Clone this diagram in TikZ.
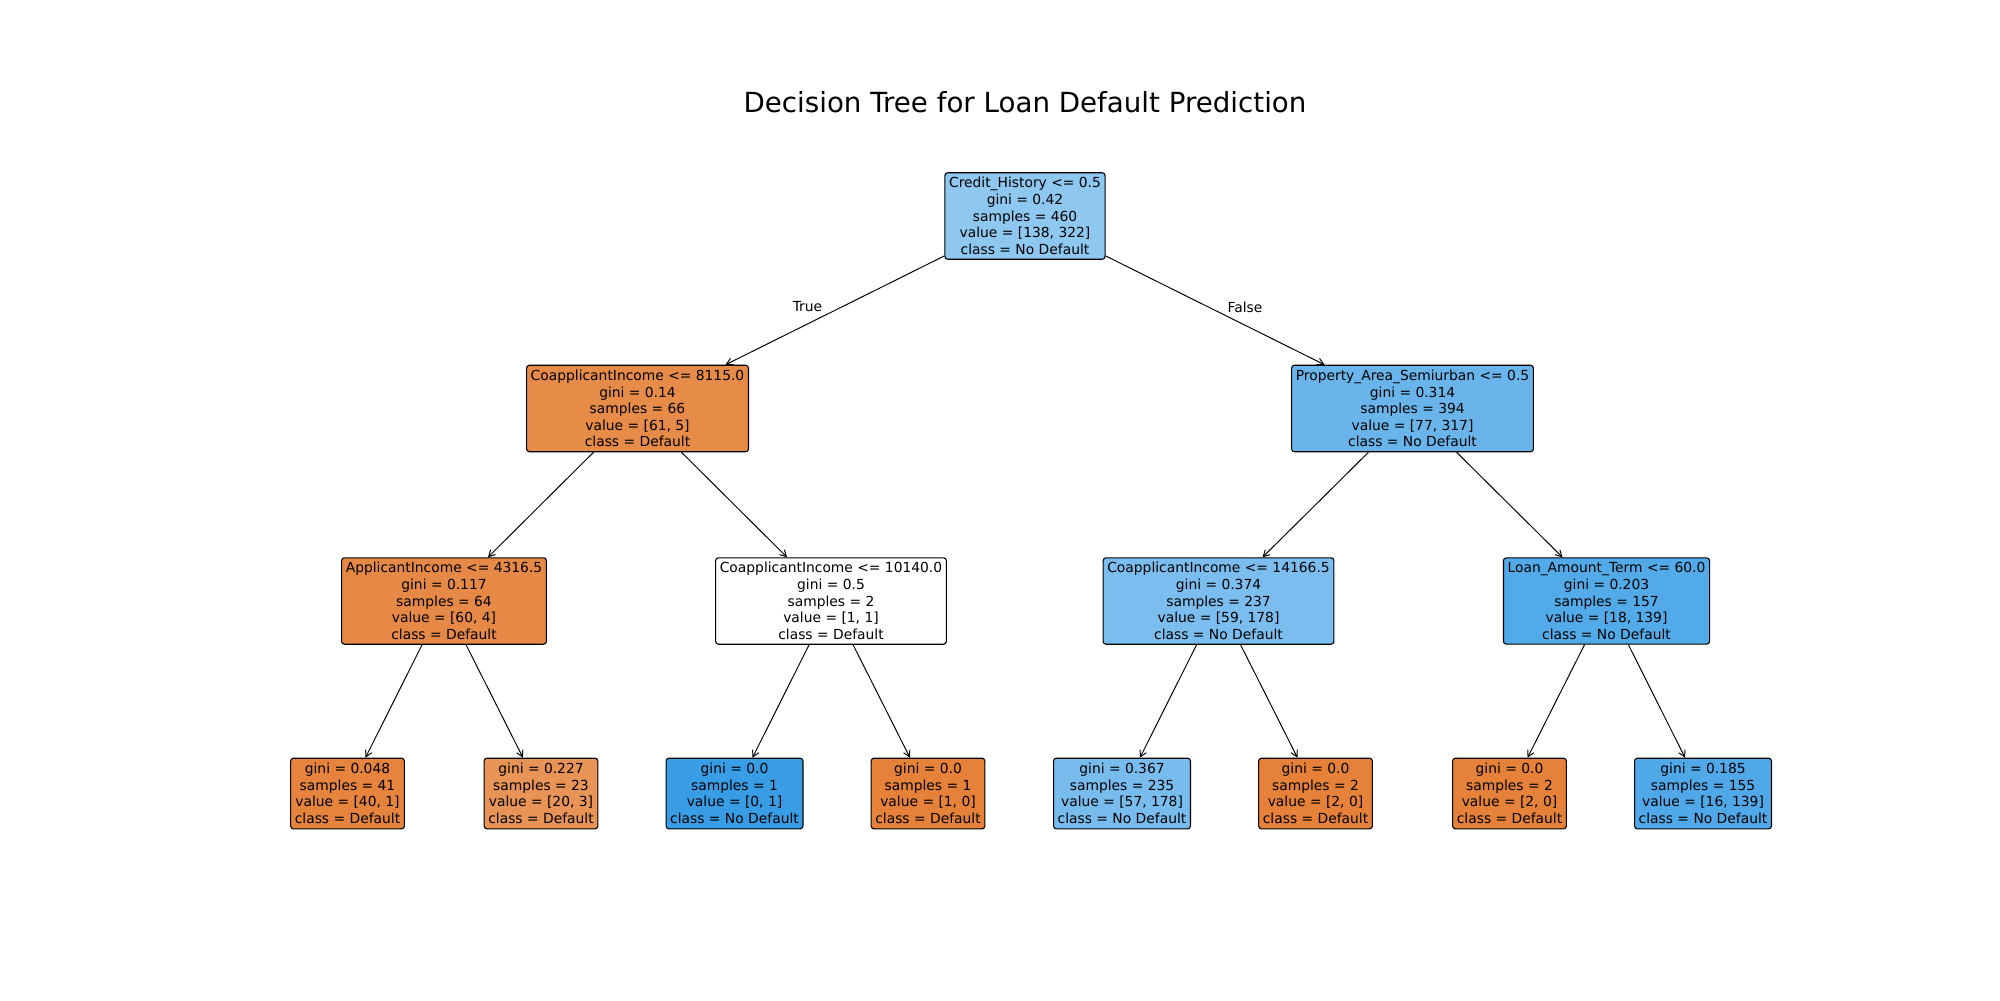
\documentclass[tikz,border=0pt]{standalone}
\usepackage{fontspec}
\setmainfont{DejaVu Sans}
\usetikzlibrary{arrows.meta}

% node fills (class colour blended by purity)
\definecolor{rootblue}{RGB}{142,199,240}
\definecolor{coappor}{RGB}{231,139,73}
\definecolor{propblue}{RGB}{105,181,235}
\definecolor{appincor}{RGB}{231,137,70}
\definecolor{coapplb}{RGB}{123,189,238}
\definecolor{loanblue}{RGB}{83,170,232}
\definecolor{leafor}{RGB}{230,132,62}
\definecolor{leaforlt}{RGB}{233,148,87}
\definecolor{pureblue}{RGB}{57,157,229}
\definecolor{pureor}{RGB}{229,129,57}
\definecolor{leaflb}{RGB}{120,188,237}
\definecolor{leafblue}{RGB}{80,168,232}

\begin{document}
\begin{tikzpicture}[
  x=0.01in, y=-0.01in,
  >={Straight Barb[length=4.5pt,width=5pt]},
  split/.style={draw, line width=0.8pt, rounded corners=2pt, fill=#1, align=center,
                font=\fontsize{10}{12}\selectfont, inner xsep=3pt, minimum height=62pt},
  leaf/.style={split=#1, minimum height=51pt},
  lbl/.style={font=\fontsize{10}{12}\selectfont},
  arr/.style={->, line width=0.7pt},
]
\useasboundingbox (0,0) rectangle (2000,1000);

% ===== Title =====
\node[font=\fontsize{20}{24}\selectfont] (title) at (1025, 102) {Decision Tree for Loan Default Prediction};

% ===== Depth 0 =====
\node[split=rootblue] (root) at (1025, 216)
  {Credit\_History <= 0.5\\gini = 0.42\\samples = 460\\value = [138, 322]\\class = No Default};

% ===== Depth 1 =====
\node[split=coappor] (coapp) at (637.5, 408.5)
  {CoapplicantIncome <= 8115.0\\gini = 0.14\\samples = 66\\value = [61, 5]\\class = Default};
\node[split=propblue] (prop) at (1412.5, 408.5)
  {Property\_Area\_Semiurban <= 0.5\\gini = 0.314\\samples = 394\\value = [77, 317]\\class = No Default};

% ===== Depth 2 =====
\node[split=appincor] (appinc) at (444, 601)
  {ApplicantIncome <= 4316.5\\gini = 0.117\\samples = 64\\value = [60, 4]\\class = Default};
\node[split=white] (coappmid) at (831, 601)
  {CoapplicantIncome <= 10140.0\\gini = 0.5\\samples = 2\\value = [1, 1]\\class = Default};
\node[split=coapplb] (coapphi) at (1218.5, 601)
  {CoapplicantIncome <= 14166.5\\gini = 0.374\\samples = 237\\value = [59, 178]\\class = No Default};
\node[split=loanblue] (loanterm) at (1606.5, 601)
  {Loan\_Amount\_Term <= 60.0\\gini = 0.203\\samples = 157\\value = [18, 139]\\class = No Default};

% ===== Depth 3 (leaves) =====
\node[leaf=leafor] (leafA) at (347.5, 793.5)
  {gini = 0.048\\samples = 41\\value = [40, 1]\\class = Default};
\node[leaf=leaforlt] (leafB) at (541, 793.5)
  {gini = 0.227\\samples = 23\\value = [20, 3]\\class = Default};
\node[leaf=pureblue] (leafC) at (734.5, 793.5)
  {gini = 0.0\\samples = 1\\value = [0, 1]\\class = No Default};
\node[leaf=pureor] (leafD) at (928, 793.5)
  {gini = 0.0\\samples = 1\\value = [1, 0]\\class = Default};
\node[leaf=leaflb] (leafE) at (1122, 793.5)
  {gini = 0.367\\samples = 235\\value = [57, 178]\\class = No Default};
\node[leaf=pureor] (leafF) at (1315.5, 793.5)
  {gini = 0.0\\samples = 2\\value = [2, 0]\\class = Default};
\node[leaf=pureor] (leafG) at (1509.5, 793.5)
  {gini = 0.0\\samples = 2\\value = [2, 0]\\class = Default};
\node[leaf=leafblue] (leafH) at (1703, 793.5)
  {gini = 0.185\\samples = 155\\value = [16, 139]\\class = No Default};

% ===== Edges =====
\draw[arr] (root) -- (coapp);
\draw[arr] (root) -- (prop);
\node[lbl] (lblTrue) at (807.5, 307) {True};
\node[lbl] (lblFalse) at (1245, 307) {False};

\draw[arr] (coapp) -- (appinc);
\draw[arr] (coapp) -- (coappmid);
\draw[arr] (prop) -- (coapphi);
\draw[arr] (prop) -- (loanterm);

\draw[arr] (appinc) -- (leafA);
\draw[arr] (appinc) -- (leafB);
\draw[arr] (coappmid) -- (leafC);
\draw[arr] (coappmid) -- (leafD);
\draw[arr] (coapphi) -- (leafE);
\draw[arr] (coapphi) -- (leafF);
\draw[arr] (loanterm) -- (leafG);
\draw[arr] (loanterm) -- (leafH);

\end{tikzpicture}
\end{document}
